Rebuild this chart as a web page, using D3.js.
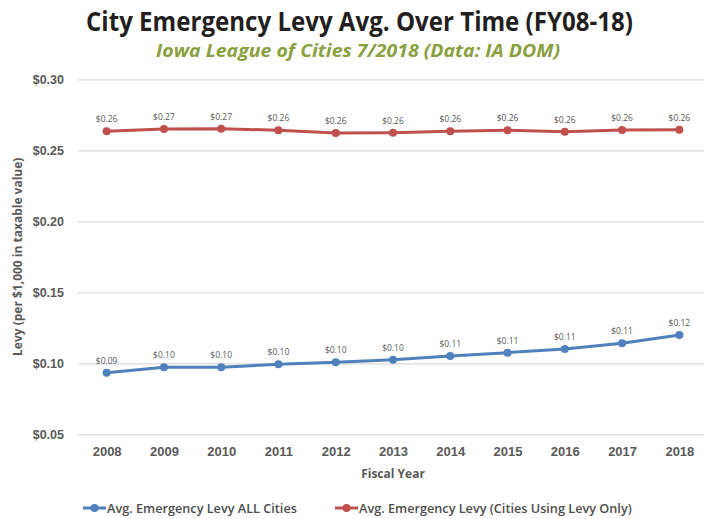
<!DOCTYPE html>
<html>
<head>
<meta charset="utf-8">
<script src="https://cdn.jsdelivr.net/npm/d3@7"></script>
<style>
  body { margin: 0; background: #fff; }
  svg { display: block; font-family: "Open Sans", "Liberation Sans", sans-serif; }
</style>
</head>
<body>
<svg id="chart" width="704" height="519"></svg>
<script>
const years = ['2008', '2009', '2010', '2011', '2012', '2013', '2014', '2015', '2016', '2017', '2018'];
const allCities = [0.0934, 0.0972, 0.0972, 0.0993, 0.1007, 0.1025, 0.1051, 0.1075, 0.1101, 0.1141, 0.1199];
const levyOnly = [0.2634, 0.2650, 0.2652, 0.2641, 0.2622, 0.2624, 0.2634, 0.2641, 0.2631, 0.2643, 0.2645];
const yTicks = [0.05, 0.10, 0.15, 0.20, 0.25, 0.30];

const series = [
    { name: 'Avg. Emergency Levy ALL Cities', values: allCities, color: '#4f81bd' },
    { name: 'Avg. Emergency Levy (Cities Using Levy Only)', values: levyOnly, color: '#c0504d' }
];

const svg = d3.select('#chart');
const plotLeft = 78, plotRight = 708, plotTop = 79.3, plotBottom = 434.3;

const x = d3.scalePoint().domain(years).range([plotLeft, plotRight]).padding(0.5);
const y = d3.scaleLinear().domain([0.05, 0.30]).range([plotBottom, plotTop]);
const money = d3.format('$.2f');

// titles (condensed look by squeezing the glyphs)
svg.append('text')
    .attr('x', 86).attr('y', 31)
    .attr('textLength', 547)
    .attr('lengthAdjust', 'spacingAndGlyphs')
    .style('font-weight', 'bold')
    .style('font-size', '26px')
    .style('fill', '#231f20')
    .text('City Emergency Levy Avg. Over Time (FY08-18)');

svg.append('text')
    .attr('x', 156).attr('y', 57)
    .attr('textLength', 404)
    .attr('lengthAdjust', 'spacingAndGlyphs')
    .style('font-weight', 'bold')
    .style('font-style', 'italic')
    .style('font-size', '18px')
    .style('fill', '#8a9f3e')
    .text('Iowa League of Cities 7/2018 (Data: IA DOM)');

// gridlines + y labels
const yAxis = svg.append('g')
    .attr('transform', `translate(${plotLeft},0)`)
    .call(d3.axisLeft(y).tickValues(yTicks).tickFormat(money).tickSize(-(plotRight - plotLeft)).tickPadding(14));
yAxis.select('.domain').remove();
yAxis.selectAll('.tick line').attr('stroke', '#d9d9d9').attr('stroke-width', 1.3);
yAxis.selectAll('.tick text')
    .style('font-size', '12.5px').style('font-weight', 'bold').style('fill', '#595959');

// x labels
const xAxis = svg.append('g')
    .attr('transform', `translate(0,${plotBottom})`)
    .call(d3.axisBottom(x).tickSize(0).tickPadding(12));
xAxis.select('.domain').remove();
xAxis.selectAll('.tick text')
    .style('font-size', '13px').style('font-weight', 'bold').style('fill', '#595959');

// axis titles
svg.append('text')
    .attr('x', (plotLeft + plotRight) / 2).attr('y', 478)
    .attr('text-anchor', 'middle')
    .style('font-size', '12px').style('font-weight', 'bold').style('fill', '#595959')
    .text('Fiscal Year');

svg.append('text')
    .attr('transform', `translate(22,${(plotTop + plotBottom) / 2}) rotate(-90)`)
    .attr('text-anchor', 'middle')
    .style('font-size', '12px').style('font-weight', 'bold').style('fill', '#595959')
    .text('Levy (per $1,000 in taxable value)');

// lines
const line = d3.line()
    .x((d, i) => x(years[i]))
    .y(d => y(d));

series.forEach(s => {
    const g = svg.append('g');
    g.append('path')
        .datum(s.values)
        .attr('d', line)
        .attr('fill', 'none')
        .attr('stroke', s.color)
        .attr('stroke-width', 3)
        .attr('stroke-linejoin', 'round');
    g.selectAll('circle')
        .data(s.values)
        .enter()
        .append('circle')
        .attr('cx', (d, i) => x(years[i]))
        .attr('cy', d => y(d))
        .attr('r', 4)
        .attr('fill', s.color);
    g.selectAll('.label')
        .data(s.values)
        .enter()
        .append('text')
        .attr('x', (d, i) => x(years[i]))
        .attr('y', d => y(d) - 9)
        .attr('text-anchor', 'middle')
        .style('font-size', '8.5px')
        .style('fill', '#595959')
        .text(d => money(d));
});

// legend
const legendX = [83, 335];
series.forEach((s, i) => {
    const g = svg.append('g').attr('transform', `translate(${legendX[i]},508)`);
    g.append('line').attr('x1', 0).attr('x2', 23).attr('stroke', s.color).attr('stroke-width', 3);
    g.append('circle').attr('cx', 11.5).attr('r', 4).attr('fill', s.color);
    g.append('text')
        .attr('x', 24).attr('y', 4.5)
        .style('font-size', '12.7px').style('font-weight', 600).style('fill', '#4d4d4d')
        .text(s.name);
});
</script>
</body>
</html>
